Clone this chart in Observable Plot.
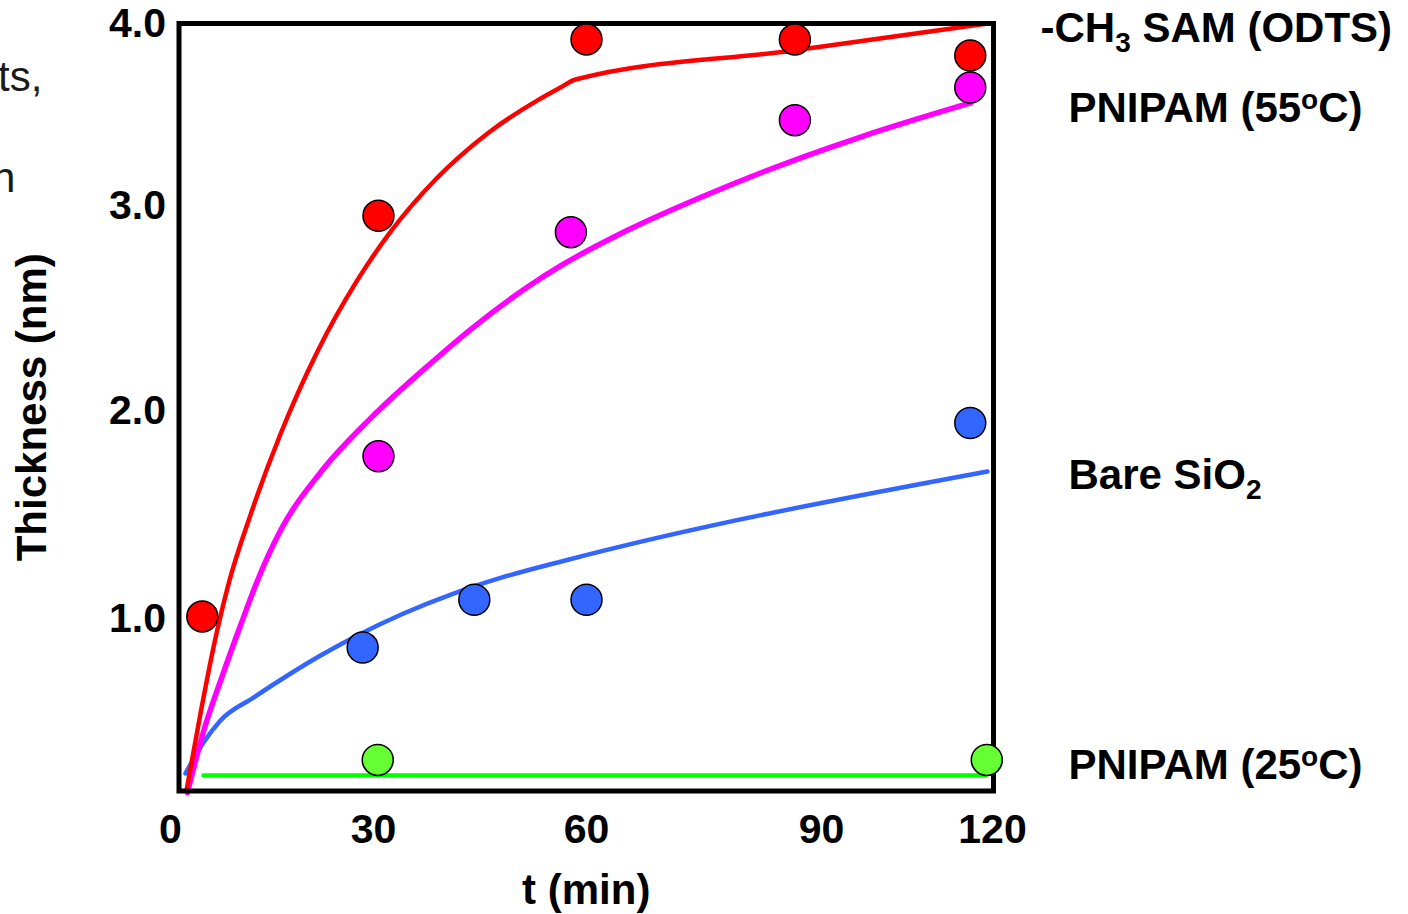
<!DOCTYPE html>
<html>
<head>
<meta charset="utf-8">
<script src="https://cdn.jsdelivr.net/npm/d3@7"></script>
<script src="https://cdn.jsdelivr.net/npm/@observablehq/plot@0.6"></script>
<style>
html, body { margin: 0; padding: 0; background: #fff; overflow: hidden; width: 1408px; height: 914px; }
#chart { position: absolute; left: 0; top: 0; }
.frag { position: absolute; z-index: 2; font-family: "Liberation Sans", Arial, sans-serif; font-size: 42px; line-height: 42px; color: #1a1a1a; white-space: nowrap; }
</style>
</head>
<body>
<div id="chart"></div>
<div class="frag" style="left:-2px; top:56px;">ts,</div>
<div class="frag" style="left:-8px; top:157px;">n</div>
<script>
// ---- axis ticks ----
const tickT = [0, 30, 60, 90, 120];
const tickThk = [1, 2, 3, 4];

// ---- measured points (t in min, thickness in nm) ----
const ch3DotT = [4.7, 30.7, 60, 86.6, 116.1];
const ch3DotY = [1.01, 2.95, 3.915, 3.915, 3.826];
const p55DotT = [30.7, 57.8, 86.6, 116.1];
const p55DotY = [1.78, 2.87, 3.47, 3.65];
const sioDotT = [28.4, 44.2, 60, 116.1];
const sioDotY = [0.86, 1.09, 1.09, 1.94];
const p25DotT = [30.6, 119.0];
const p25DotY = [0.32, 0.32];

// ---- fitted curves ----
const ch3FitT = [2.36, 4.43, 6.35, 8.72, 11.82, 16.26, 21.72, 27.64, 32.39, 39.01, 46.06, 53.10, 56.34, 58.45, 86.43, 119.12];
const ch3FitY = [0.173, 0.543, 0.861, 1.183, 1.498, 1.887, 2.288, 2.637, 2.871, 3.154, 3.397, 3.579, 3.650, 3.694, 3.854, 4.003];
const p55FitT = [2.51, 4.88, 7.68, 10.34, 12.86, 16.26, 22.17, 29.56, 38.03, 43.66, 52.11, 56.34, 65.23, 74.55, 82.21, 96.84, 116.14];
const p55FitY = [0.163, 0.457, 0.726, 0.966, 1.183, 1.423, 1.702, 1.962, 2.229, 2.395, 2.612, 2.705, 2.879, 3.044, 3.179, 3.377, 3.565];
const sioFitT = [2.22, 4.88, 7.39, 12.27, 17.29, 22.17, 27.04, 34.23, 41.27, 47.89, 56.34, 119.12];
const sioFitY = [0.255, 0.404, 0.510, 0.620, 0.726, 0.822, 0.909, 1.024, 1.120, 1.195, 1.273, 1.707];
const p25FitT = [4.88, 118.77];
const p25FitY = [0.245, 0.245];

// ---- series labels ----
const labelNames = ["-CH_3 SAM (ODTS)", "PNIPAM (55^oC)", "Bare SiO_2", "PNIPAM (25^oC)"];
const labelThk = [3.975, 3.534, 1.6875, 0.293];

const zip = (ts, ys) => ts.map((t, i) => ({t, v: ys[i]}));
const labels = labelNames.map((name, i) => ({name, v: labelThk[i]}));

// the original figure's axes are slightly uneven between ticks; reproduce that spacing
const xWarp = d3.scaleLinear().domain(tickT).range([0, 29.635, 60.73, 95.04, 120]);
const yWarp = d3.scaleLinear().domain(tickThk).range([1, 2.0496, 3.0841, 4]);

const FONT = "'Liberation Sans', Arial, Helvetica, sans-serif";

const plot = Plot.plot({
  width: 1408,
  height: 914,
  marginLeft: 178.5,
  marginRight: 415,
  marginTop: 23,
  marginBottom: 123.5,
  style: {fontFamily: FONT, fontWeight: "bold", color: "#000", background: "#fff", overflow: "hidden"},
  x: {transform: xWarp, domain: [1.241, 120.146], axis: null},
  y: {transform: yWarp, domain: [0.1295, 4.0025], axis: null},
  marks: [
    Plot.axisX(tickT, {tickSize: 0, tickPadding: 23, fontSize: 41, fontWeight: "bold", label: null, tickFormat: d3.format("d")}),
    Plot.axisY(tickThk, {tickSize: 0, tickPadding: 13, fontSize: 41, fontWeight: "bold", label: null, tickFormat: d3.format(".1f")}),
    Plot.line(zip(p25FitT, p25FitY), {x: "t", y: "v", stroke: "#00ff00", strokeWidth: 4.5}),
    Plot.line(zip(sioFitT, sioFitY), {x: "t", y: "v", stroke: "#3366ff", strokeWidth: 4.5, curve: "monotone-x"}),
    Plot.line(zip(p55FitT, p55FitY), {x: "t", y: "v", stroke: "#ff00ff", strokeWidth: 5.5, curve: "monotone-x"}),
    Plot.line(zip(ch3FitT, ch3FitY), {x: "t", y: "v", stroke: "#ff0000", strokeWidth: 4.5, curve: "monotone-x"}),
    Plot.frame({stroke: "#000", strokeWidth: 5}),
    Plot.dot(zip(p25DotT, p25DotY), {x: "t", y: "v", r: 15.5, fill: "#66ff33", stroke: "#000", strokeWidth: 1.5}),
    Plot.dot(zip(sioDotT, sioDotY), {x: "t", y: "v", r: 15.5, fill: "#3366ff", stroke: "#000", strokeWidth: 1.5}),
    Plot.dot(zip(p55DotT, p55DotY), {x: "t", y: "v", r: 15.5, fill: "#ff00ff", stroke: "#000", strokeWidth: 1.5}),
    Plot.dot(zip(ch3DotT, ch3DotY), {x: "t", y: "v", r: 15.5, fill: "#ff0000", stroke: "#000", strokeWidth: 1.5}),
    Plot.text(labels.slice(0, 1), {frameAnchor: "right", y: "v", text: "name", textAnchor: "start", dx: 47, fontSize: 42, fontWeight: "bold", fill: "#000"}),
    Plot.text(labels.slice(1), {frameAnchor: "right", y: "v", text: "name", textAnchor: "start", dx: 75, fontSize: 42, fontWeight: "bold", fill: "#000"}),
    Plot.text(["Thickness (nm)"], {frameAnchor: "left", text: d => d, textAnchor: "middle", rotate: -90, dx: -146.5, fontSize: 42, fontWeight: "bold", fill: "#000"}),
    Plot.text(["t (min)"], {frameAnchor: "bottom", text: d => d, textAnchor: "middle", dy: 113, fontSize: 42, fontWeight: "bold", fill: "#000"})
  ]
});

// sub/superscripts for labels
d3.select(plot).selectAll("text").each(function() {
  const el = this;
  if (el.querySelector("tspan")) return;
  const s = el.textContent;
  if (!/[_^]/.test(s)) return;
  el.textContent = "";
  el.setAttribute("xml:space", "preserve");
  el.style.whiteSpace = "pre";
  const parts = s.split(/([_^]\w)/);
  let shift = 0;
  for (const p of parts) {
    if (!p) continue;
    const ts = document.createElementNS("http://www.w3.org/2000/svg", "tspan");
    let target = 0, txt = p, small = false;
    if (p.length === 2 && p[0] === "_") { target = 10; txt = p[1]; small = true; }
    else if (p.length === 2 && p[0] === "^") { target = -13; txt = p[1]; small = true; }
    ts.setAttribute("dy", String(target - shift));
    shift = target;
    if (small) ts.setAttribute("font-size", "28");
    ts.textContent = txt;
    el.appendChild(ts);
  }
});

document.getElementById("chart").appendChild(plot);
</script>
</body>
</html>
